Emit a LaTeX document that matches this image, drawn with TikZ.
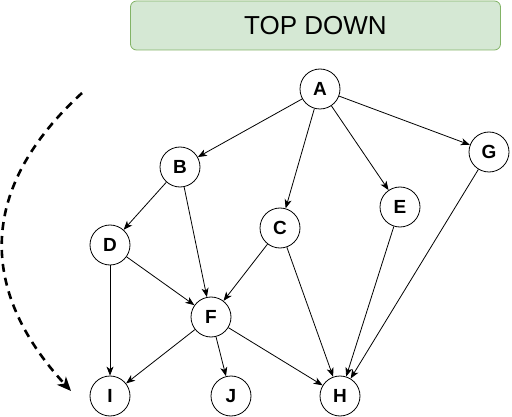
\documentclass[tikz,border=0pt]{standalone}
\usepackage{fontspec}
\setmainfont{Liberation Sans}
\usetikzlibrary{arrows.meta}
\definecolor{titlefill}{HTML}{D5E8D4}
\definecolor{titledraw}{HTML}{82B366}
\begin{document}
\begin{tikzpicture}[x=1pt,y=-1pt,
  vert/.style={circle,draw,line width=0.8pt,minimum size=40pt,inner sep=0pt,font=\fontsize{19}{19}\selectfont\bfseries},
  edge/.style={line width=0.8pt,-{Stealth[length=9pt,width=7pt,inset=2.5pt]}}]
\useasboundingbox (0,0) rectangle (512,417);
\node[draw=titledraw,fill=titlefill,rounded corners=6pt,line width=0.8pt,minimum width=370pt,minimum height=49pt,inner sep=0pt,font=\fontsize{26}{26}\selectfont] (title) at (315.5,25.5) {TOP DOWN};
\node[vert] (A) at (320,89) {A};
\node[vert] (B) at (180,167) {B};
\node[vert] (C) at (280,228) {C};
\node[vert] (D) at (110,245) {D};
\node[vert] (E) at (400,207) {E};
\node[vert] (F) at (211,317) {F};
\node[vert] (G) at (489,152) {G};
\node[vert] (H) at (340,396) {H};
\node[vert] (I) at (110,396) {I};
\node[vert] (J) at (231,396) {J};
\draw[edge] (A) -- (B);
\draw[edge] (A) -- (C);
\draw[edge] (A) -- (E);
\draw[edge] (A) -- (G);
\draw[edge] (B) -- (D);
\draw[edge] (B) -- (F);
\draw[edge] (C) -- (F);
\draw[edge] (C) -- (H);
\draw[edge] (D) -- (F);
\draw[edge] (D) -- (I);
\draw[edge] (E) -- (H);
\draw[edge] (G) -- (H);
\draw[edge] (F) -- (I);
\draw[edge] (F) -- (J);
\draw[edge] (F) -- (H);
\coordinate (s) at (82,93);
\coordinate (t) at (71,391);
\draw[line width=2.6pt,dash pattern=on 8pt off 6pt,-{Stealth[length=14pt,width=12pt,inset=4pt]}] (s) .. controls (-22,188) and (-22,290) .. (t);
\end{tikzpicture}
\end{document}
